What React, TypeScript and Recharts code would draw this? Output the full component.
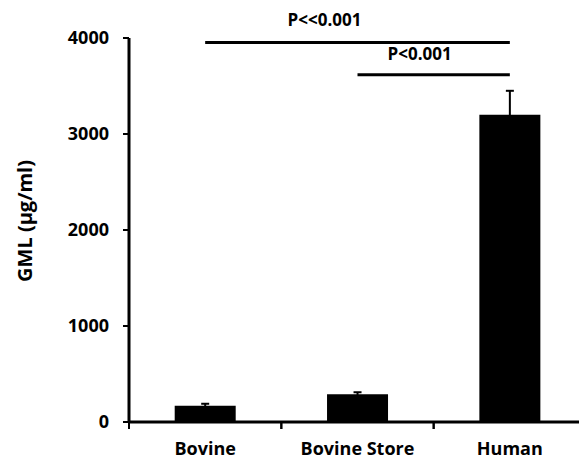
import React from "react";
import {
  Bar,
  BarChart,
  ErrorBar,
  Label,
  ReferenceLine,
  XAxis,
  YAxis,
} from "recharts";

const groups = ["Bovine", "Bovine Store", "Human"];
const gml = [170, 290, 3200];
const gmlErr = [20, 20, 250];
const yTicks = [0, 1000, 2000, 3000, 4000];

const data = groups.map((name, i) => ({ name, gml: gml[i], err: gmlErr[i] }));

const font = "'Open Sans', sans-serif";

// category label plus an Excel-style tick at the edges of each band
const CatTick = (props: any) => {
  const { x, y, payload, width, visibleTicksCount } = props;
  const half =
    payload && payload.offset
      ? payload.offset
      : width && visibleTicksCount
      ? width / visibleTicksCount / 2
      : 76;
  return (
    <g>
      <line x1={x - half} x2={x - half} y1={y} y2={y + 7} stroke="#000" strokeWidth={2} />
      <line x1={x + half} x2={x + half} y1={y} y2={y + 7} stroke="#000" strokeWidth={2} />
      <text
        x={x}
        y={y + 33}
        textAnchor="middle"
        fontSize={18}
        fontWeight="bold"
        fontFamily={font}
        fill="#000"
      >
        {payload.value}
      </text>
    </g>
  );
};

const YLabel = () => (
  <text
    x={32}
    y={221}
    transform="rotate(-90 32 221)"
    textAnchor="middle"
    fontSize={20}
    fontWeight="bold"
    fontFamily={font}
    fill="#000"
  >
    GML (µg/ml)
  </text>
);

export default function App() {
  return (
    <div
      style={{
        position: "absolute",
        left: 0,
        top: 0,
        width: 579,
        height: 460,
        overflow: "hidden",
        background: "#fff",
      }}
    >
      <BarChart
        width={600}
        height={460}
        data={data}
        margin={{ top: 38, right: 14, left: 0, bottom: 0 }}
        barCategoryGap="30%"
        style={{ fontFamily: font }}
      >
        <XAxis
          dataKey="name"
          height={38}
          axisLine={{ stroke: "#000", strokeWidth: 3 }}
          tickLine={false}
          tickSize={0}
          tickMargin={0}
          interval={0}
          tick={<CatTick />}
        />
        <YAxis
          width={129}
          domain={[0, 4000]}
          ticks={yTicks}
          interval={0}
          axisLine={{ stroke: "#000", strokeWidth: 3 }}
          tickLine={{ stroke: "#000", strokeWidth: 2 }}
          tickSize={6}
          tickMargin={14}
          tick={{ fill: "#000", fontSize: 18, fontWeight: "bold", fontFamily: font }}
        >
          <Label content={<YLabel />} />
        </YAxis>
        <Bar dataKey="gml" fill="#000" isAnimationActive={false}>
          <ErrorBar
            dataKey="err"
            direction="y"
            width={4}
            stroke="#000"
            strokeWidth={2}
            isAnimationActive={false}
          />
        </Bar>
        <ReferenceLine
          segment={[
            { x: "Bovine", y: 3953 },
            { x: "Human", y: 3953 },
          ]}
          stroke="#000"
          strokeWidth={3}
          label={{
            value: "P<<0.001",
            position: "top",
            offset: 17,
            dx: -33,
            fill: "#000",
            fontSize: 17,
            fontWeight: "bold",
            fontFamily: font,
          }}
        />
        <ReferenceLine
          segment={[
            { x: "Bovine Store", y: 3618 },
            { x: "Human", y: 3618 },
          ]}
          stroke="#000"
          strokeWidth={3}
          label={{
            value: "P<0.001",
            position: "top",
            offset: 15,
            dx: -14,
            fill: "#000",
            fontSize: 17,
            fontWeight: "bold",
            fontFamily: font,
          }}
        />
      </BarChart>
    </div>
  );
}
